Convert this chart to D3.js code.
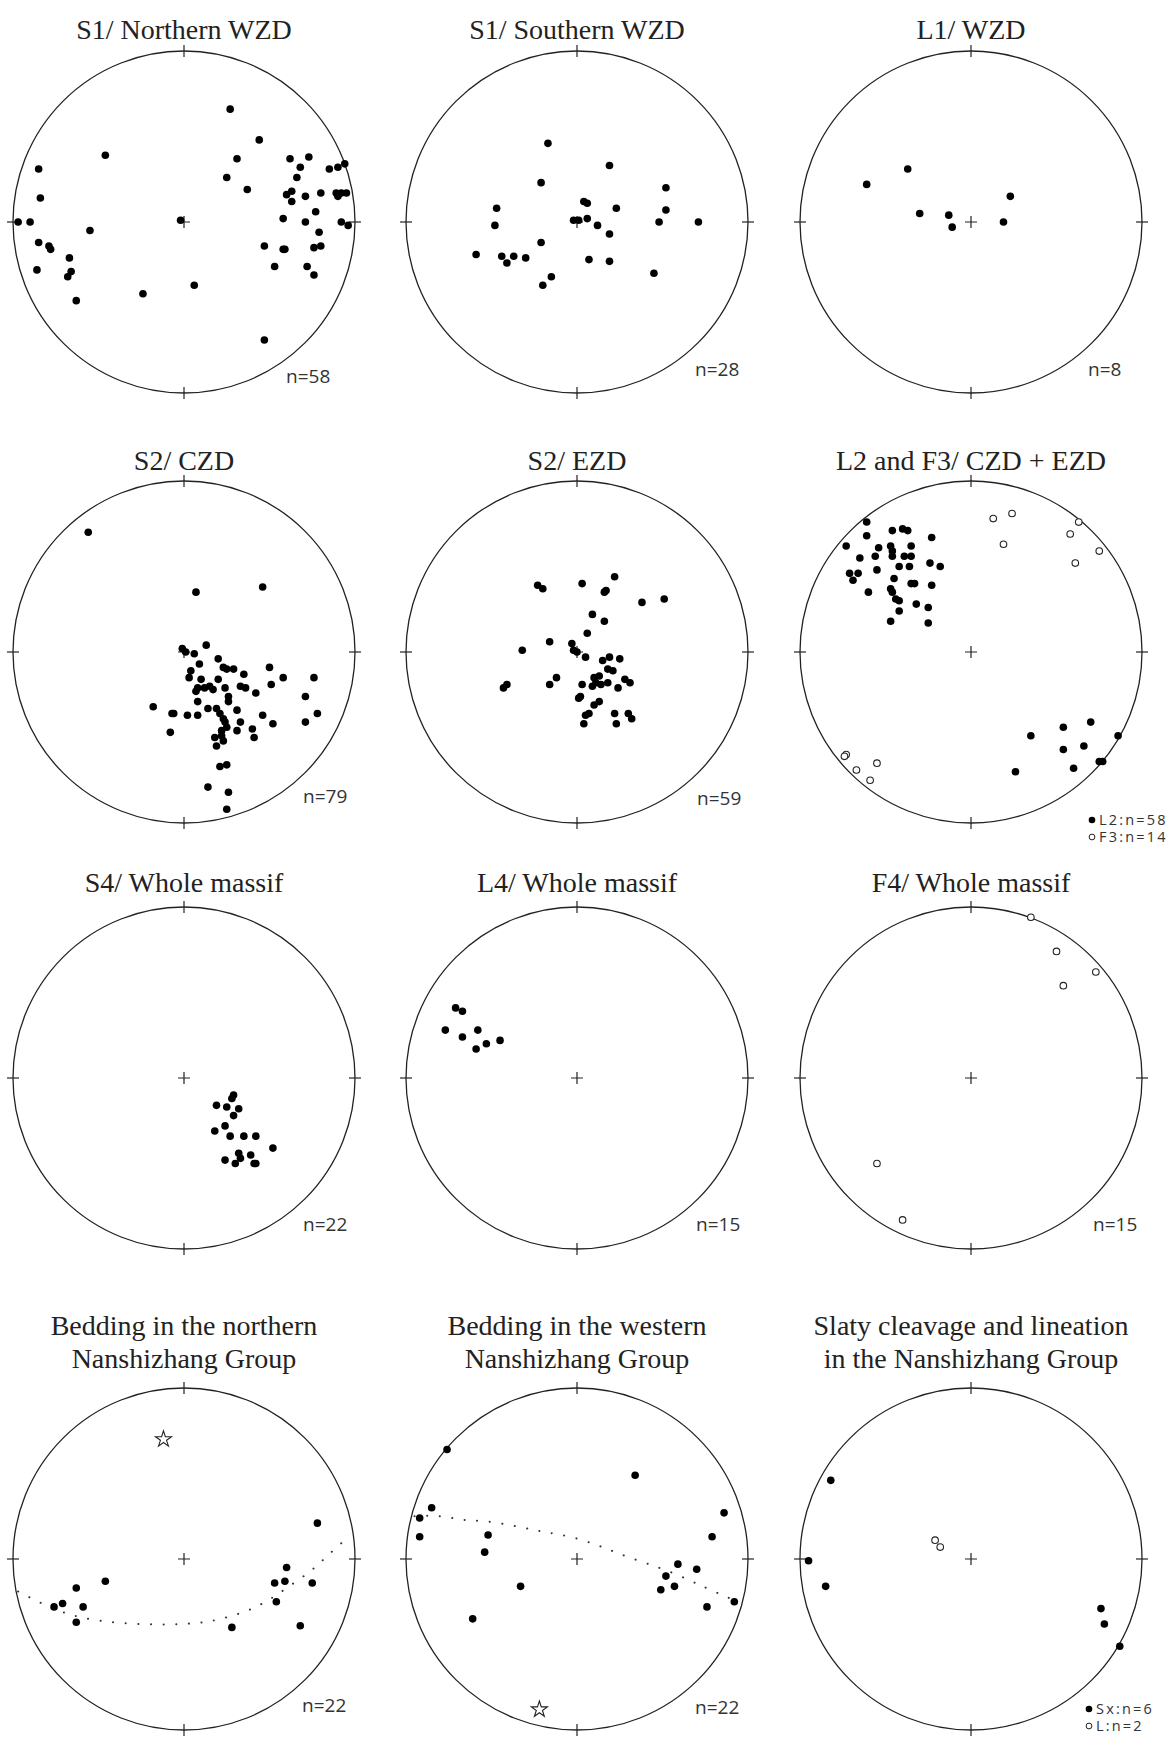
<!DOCTYPE html>
<meta charset="utf-8">
<head>
    <title>Stereonets</title>
    <script src="https://cdn.jsdelivr.net/npm/d3@7"></script>
    <style>
        body { margin: 0; background: #fff; }
        .title { font-family: "Liberation Serif", "Times New Roman", serif; font-size: 28px; fill: #222; text-anchor: middle; }
        .nlabel { font-family: "Open Sans", sans-serif; font-size: 19px; fill: #333; }
        .legend { font-family: "Open Sans", sans-serif; font-size: 14.5px; letter-spacing: 2.2px; fill: #333; }
        .net { fill: none; stroke: #222; stroke-width: 1.3; }
        .tick { stroke: #222; stroke-width: 1.2; }
    </style>
</head>
<body>
<svg id="svg"></svg>
<script>
// all points are [east, north] in percent of the net radius

const panelTitles = [
    ["S1/ Northern WZD"], ["S1/ Southern WZD"], ["L1/ WZD"],
    ["S2/ CZD"], ["S2/ EZD"], ["L2 and F3/ CZD + EZD"],
    ["S4/ Whole massif"], ["L4/ Whole massif"], ["F4/ Whole massif"],
    ["Bedding in the northern", "Nanshizhang Group"],
    ["Bedding in the western", "Nanshizhang Group"],
    ["Slaty cleavage and lineation", "in the Nanshizhang Group"]
]
const nLabels = ["n=58", "n=28", "n=8", "n=79", "n=59", null, "n=22", "n=15", "n=15", "n=22", "n=22", null]
const legendL2F3 = [["L2:n=58", "dot"], ["F3:n=14", "ring"]]
const legendSxL = [["Sx:n=6", "dot"], ["L:n=2", "ring"]]

const s1North = [[27,66],[44,48],[-46,39],[31,37],[62,37],[73,38],[68,32],[-85,31],[85,31],[90,32],[94,34],[25,26],[66,26],[-84,14],[37,19],[60,16],[63,18],[63,12],[71,15],[80,17],[89,17],[92,17],[95,17],[90,15],[77,6],[-97,0],[-90,0],[-2,1],[58,2],[71,0],[92,0],[96,-2],[-55,-5],[79,-6],[-85,-12],[-79,-14],[-78,-16],[47,-14],[58,-16],[59,-16],[76,-15],[80,-14],[-67,-21],[-86,-28],[-66,-29],[-68,-32],[53,-26],[72,-26],[76,-31],[6,-37],[-24,-42],[-63,-46],[47,-69]]
const s1South = [[-17,46],[19,33],[-21,23],[52,20],[4,12],[6,11],[-47,8],[23,8],[52,7],[-48,-2],[-2,1],[1,1],[6,2],[12,-2],[48,0],[71,0],[19,-7],[-21,-12],[-59,-19],[-44,-20],[-41,-24],[-37,-20],[-30,-21],[7,-22],[19,-23],[45,-30],[-15,-32],[-20,-37]]
const l1Wzd = [[-37,31],[-61,22],[23,15],[-30,5],[-13,4],[-11,-3],[19,0]]
const s2Czd = [[-56,70],[7,35],[46,38],[13,4],[-1,2],[1,0],[6,-1],[20,-4],[9,-7],[4,-11],[23,-9],[25,-10],[29,-10],[35,-13],[50,-9],[58,-15],[76,-15],[3,-15],[10,-16],[20,-16],[8,-21],[12,-21],[15,-20],[17,-22],[7,-23],[24,-21],[33,-20],[36,-21],[42,-24],[51,-19],[26,-26],[26,-29],[71,-26],[8,-29],[-18,-32],[-6,-36],[-7,-36],[2,-37],[8,-37],[14,-33],[19,-33],[21,-36],[23,-39],[31,-34],[46,-37],[78,-36],[24,-41],[25,-44],[33,-41],[52,-42],[71,-41],[22,-46],[31,-46],[40,-45],[-8,-47],[41,-50],[18,-50],[22,-49],[23,-52],[19,-55],[21,-67],[25,-66],[14,-79],[26,-82],[25,-92]]
const s2Ezd = [[22,44],[-23,39],[-20,37],[3,40],[17,36],[16,35],[38,29],[51,31],[9,22],[16,18],[6,11],[-16,6],[-3,5],[-32,1],[-2,1],[0,0],[5,-3],[19,-3],[15,-5],[25,-4],[18,-10],[21,-11],[-12,-15],[-16,-19],[-41,-19],[-43,-21],[10,-15],[13,-14],[11,-18],[14,-19],[18,-18],[3,-19],[9,-20],[28,-16],[31,-18],[24,-21],[2,-26],[1,-27],[13,-29],[10,-31],[7,-36],[5,-37],[22,-36],[30,-36],[32,-39],[4,-42],[23,-42]]
const l2Pts = [[-61,76],[-46,71],[-40,72],[-37,71],[-61,68],[-23,67],[-73,62],[-54,61],[-47,62],[-35,62],[-46,59],[-65,55],[-56,56],[-46,56],[-39,56],[-35,56],[-24,52],[-18,50],[-71,46],[-66,46],[-55,48],[-42,50],[-36,50],[-69,42],[-45,43],[-35,40],[-33,40],[-23,39],[-47,37],[-60,35],[-46,35],[-44,31],[-42,30],[-32,28],[-25,26],[-42,24],[-47,18],[-25,17],[70,-41],[54,-44],[35,-49],[86,-49],[66,-55],[54,-57],[75,-64],[77,-64],[60,-68],[26,-70]]
const f3Pts = [[13,78],[24,81],[19,63],[63,76],[58,69],[75,59],[61,52],[-73,-60],[-74,-61],[-67,-69],[-55,-65],[-59,-75]]
const s4Pts = [[29,-10],[28,-12],[19,-16],[25,-17],[32,-18],[29,-22],[24,-28],[18,-31],[27,-34],[35,-34],[42,-34],[52,-41],[32,-44],[33,-47],[39,-45],[24,-48],[30,-50],[41,-50],[42,-50]]
const l4Pts = [[-71,41],[-67,39],[-77,28],[-67,24],[-58,28],[-45,22],[-53,20],[-59,17]]
const f4Pts = [[35,94],[50,74],[73,62],[54,54],[-55,-50],[-40,-83]]
const bedNorthPts = [[78,21],[60,-5],[-46,-13],[53,-14],[59,-13],[75,-14],[-63,-17],[-76,-28],[-71,-26],[-59,-28],[54,-25],[-63,-37],[28,-40],[68,-39]]
const bedNorthPole = [[-12,70]]
const bedNorthGirdle = [[-97,-19],[-83,-26],[-68,-32],[-50,-36],[-26,-38],[-1,-38],[17,-36],[32,-32],[46,-26],[60,-17],[74,-7],[84,2],[94,11]]
const bedWestPts = [[-76,64],[34,49],[-85,30],[-92,24],[86,27],[-92,13],[-52,14],[79,13],[-54,4],[59,-3],[70,-6],[52,-10],[-33,-16],[57,-16],[49,-18],[76,-28],[92,-25],[-61,-35]]
const bedWestPole = [[-22,-88]]
const bedWestGirdle = [[-95,25],[-80,25],[-67,23],[-53,22],[-35,19],[-20,16],[-4,13],[12,8],[25,3],[39,-2],[53,-7],[67,-13],[78,-18],[94,-25]]
const sxPts = [[-82,46],[-95,-1],[-85,-16],[76,-29],[78,-38],[87,-51]]
const lPts = [[-21,11],[-18,7]]

// layout
const width = 1176, height = 1737
const colX = [184, 577, 971]
const rowY = [222, 652, 1078, 1559]
const R = 171
const titleY = [39, 470, 892, 1335]
const nOffset = [[102,161],[118,154],[117,154],[119,151],[120,153],null,[119,153],[119,153],[122,153],[118,153],[118,155],null]

const panels = [
    { dots: s1North }, { dots: s1South }, { dots: l1Wzd },
    { dots: s2Czd }, { dots: s2Ezd }, { dots: l2Pts, rings: f3Pts, legend: legendL2F3, legendAt: [121, 168] },
    { dots: s4Pts }, { dots: l4Pts }, { rings: f4Pts },
    { dots: bedNorthPts, stars: bedNorthPole, girdle: bedNorthGirdle },
    { dots: bedWestPts, stars: bedWestPole, girdle: bedWestGirdle },
    { dots: sxPts, rings: lPts, legend: legendSxL, legendAt: [118, 150] }
]

let svg = d3.select('#svg')
    .attr('width', width)
    .attr('height', height)

const star = d3.symbol().type(d3.symbolStar).size(80)

panels.forEach((p, i) => {
    let col = i % 3
    let row = Math.floor(i / 3)
    let cx = colX[col], cy = rowY[row]
    let x = d3.scaleLinear().domain([-100, 100]).range([cx - R, cx + R])
    let y = d3.scaleLinear().domain([-100, 100]).range([cy + R, cy - R])
    let g = svg.append('g').attr('class', 'panel')

    // title
    panelTitles[i].forEach((line, k) => {
        g.append('text')
            .attr('class', 'title')
            .attr('x', cx)
            .attr('y', titleY[row] + k * 33)
            .text(line)
    })

    // primitive circle with N E S W ticks and centre cross
    g.append('circle').attr('class', 'net')
        .attr('cx', cx).attr('cy', cy).attr('r', R)
    let tk = [[0, 1], [1, 0], [0, -1], [-1, 0]]
    g.selectAll('line.tick').data(tk).enter().append('line')
        .attr('class', 'tick')
        .attr('x1', d => x(d[0] * 96.5)).attr('y1', d => y(d[1] * 96.5))
        .attr('x2', d => x(d[0] * 103.5)).attr('y2', d => y(d[1] * 103.5))
    g.append('path').attr('class', 'tick')
        .attr('d', `M${cx - 6},${cy}H${cx + 6}M${cx},${cy - 6}V${cy + 6}`)

    if (p.girdle) {
        let line = d3.line().x(d => x(d[0])).y(d => y(d[1])).curve(d3.curveNatural)
        g.append('path')
            .attr('d', line(p.girdle))
            .attr('fill', 'none')
            .attr('stroke', '#333')
            .attr('stroke-width', 2)
            .attr('stroke-linecap', 'round')
            .attr('stroke-dasharray', '0.1 12.5')
    }

    if (p.dots) {
        g.selectAll('circle.dot').data(p.dots).enter().append('circle')
            .attr('class', 'dot')
            .attr('cx', d => x(d[0])).attr('cy', d => y(d[1]))
            .attr('r', 3.8)
            .attr('fill', '#000')
    }
    if (p.rings) {
        g.selectAll('circle.ring').data(p.rings).enter().append('circle')
            .attr('class', 'ring')
            .attr('cx', d => x(d[0])).attr('cy', d => y(d[1]))
            .attr('r', 3.3)
            .attr('fill', '#fff')
            .attr('stroke', '#222')
            .attr('stroke-width', 1.1)
    }
    if (p.stars) {
        g.selectAll('path.star').data(p.stars).enter().append('path')
            .attr('class', 'star')
            .attr('d', star)
            .attr('transform', d => `translate(${x(d[0])},${y(d[1])})`)
            .attr('fill', '#fff')
            .attr('stroke', '#222')
            .attr('stroke-width', 1.1)
    }

    if (nLabels[i]) {
        g.append('text')
            .attr('class', 'nlabel')
            .attr('x', cx + nOffset[i][0])
            .attr('y', cy + nOffset[i][1])
            .text(nLabels[i])
    }

    if (p.legend) {
        p.legend.forEach((item, k) => {
            let lx = cx + p.legendAt[0]
            let ly = cy + p.legendAt[1] + k * 17
            g.append('circle')
                .attr('cx', lx).attr('cy', ly)
                .attr('r', item[1] == 'dot' ? 3.3 : 2.9)
                .attr('fill', item[1] == 'dot' ? '#000' : '#fff')
                .attr('stroke', item[1] == 'dot' ? 'none' : '#222')
                .attr('stroke-width', 1)
            g.append('text')
                .attr('class', 'legend')
                .attr('x', lx + 7)
                .attr('y', ly + 5)
                .text(item[0])
        })
    }
})
</script>
</body>
